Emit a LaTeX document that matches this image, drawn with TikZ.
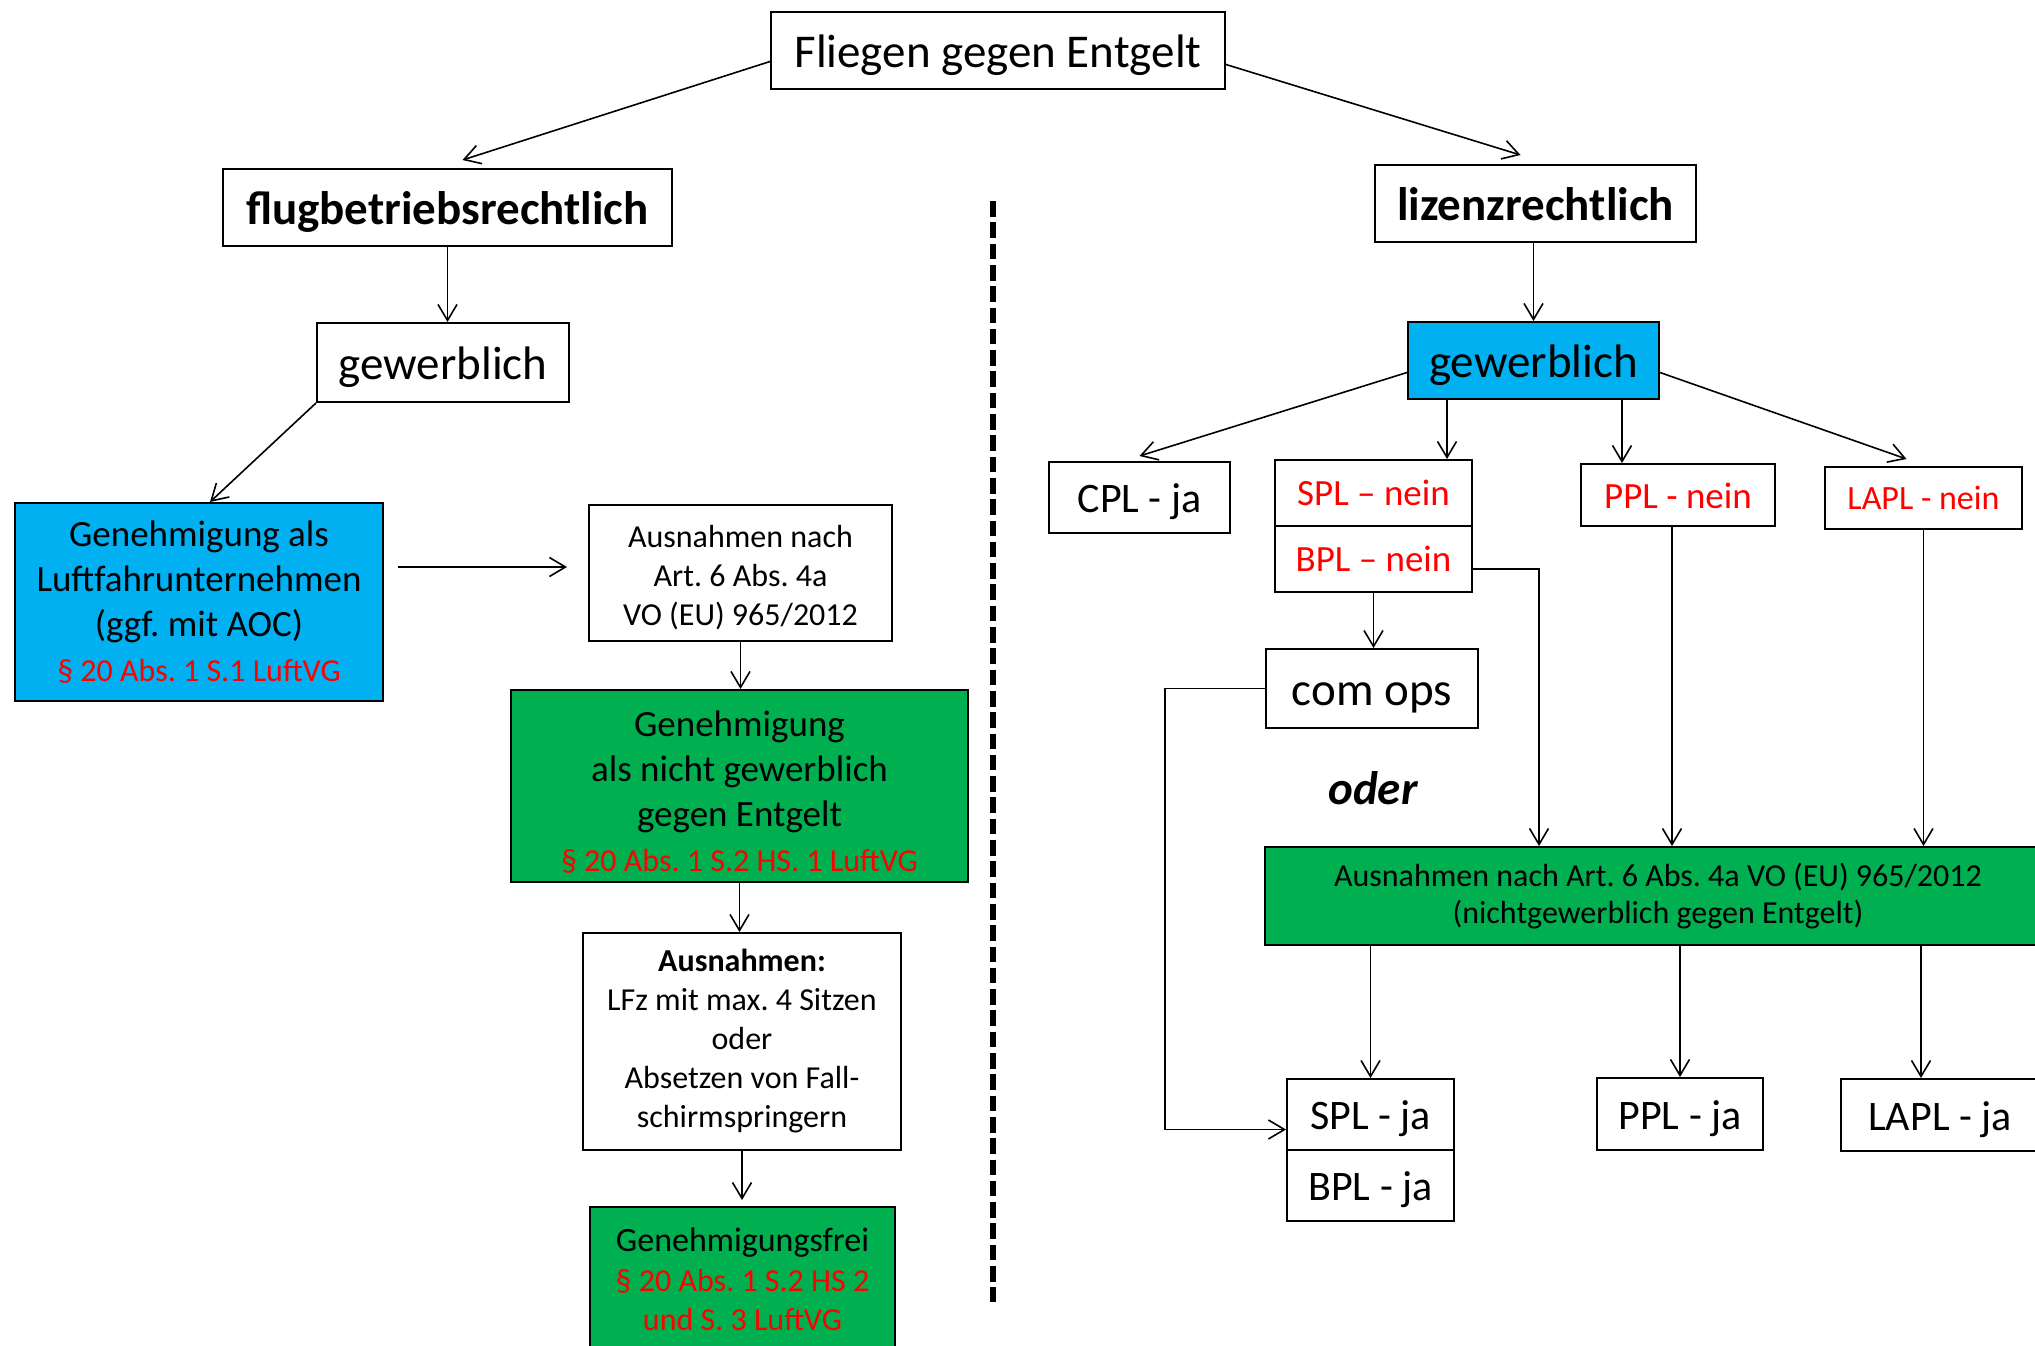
\documentclass[tikz,border=0pt]{standalone}
\usepackage{fontspec}
\setmainfont{Carlito}
\usetikzlibrary{arrows.meta}
\definecolor{cblue}{RGB}{0,176,240}
\definecolor{cgreen}{RGB}{0,176,80}
\definecolor{cred}{RGB}{255,0,0}
\newcommand\myfs[2]{\fontsize{#1}{#2}\selectfont}
\begin{document}
\frenchspacing
\begin{tikzpicture}[x=1pt,y=-1pt,
  box/.style={draw=black, line width=2pt, inner sep=0pt, align=center, anchor=center, text=black},
  arr/.style={draw=black, line width=1.6pt, -{Straight Barb[length=16pt,width=19pt]}},
  divider/.style={draw=black, line width=5.3pt, dash pattern=on 15.6pt off 5.7pt},
  big/.style={font=\myfs{47}{56}, text height=35pt, text depth=2pt},
  bigb/.style={font=\myfs{47}{56}\bfseries, text height=35pt, text depth=2pt},
  lab/.style={font=\myfs{42}{50}, text height=32pt, text depth=2pt},
  redlab/.style={font=\myfs{37}{44}, text=cred},
  mid/.style={font=\myfs{37}{45}},
  small/.style={font=\myfs{32}{39}}
]
\useasboundingbox (0,0) rectangle (2035,1345);
\clip (0,0) rectangle (2035,1345);
\fill[white] (0,0) rectangle (2035,1345);

% ---- top
\node[box, big, minimum width=454pt, minimum height=77pt] (top) at (998,50.5) {Fliegen gegen Entgelt};

% ---- left branch
\node[box, bigb, minimum width=449pt, minimum height=77pt] (flug) at (447.5,207.5) {flugbetriebsrechtlich};
\node[box, big, minimum width=252pt, minimum height=79pt] (gew1) at (443,362.5) {gewerblich};
\node[box, mid, fill=cblue, minimum width=368pt, minimum height=198pt] (blue) at (199,602)
  {Genehmigung als\\Luftfahrunternehmen\\(ggf. mit AOC)\\{\color{cred}\myfs{32}{39}§ 20 Abs. 1 S.1 LuftVG}};
\node[box, small, minimum width=303pt, minimum height=136pt] (ausn1) at (740.5,573)
  {\rule{0pt}{31pt}Ausnahmen nach\\Art. 6 Abs. 4a\\VO (EU) 965/2012};
\node[box, mid, fill=cgreen, minimum width=457pt, minimum height=192pt] (green1) at (739.5,786)
  {\rule{0pt}{38pt}Genehmigung\\als nicht gewerblich\\gegen Entgelt\\{\color{cred}\myfs{32}{39}§ 20 Abs. 1 S.2 HS. 1 LuftVG}};
\node[box, small, minimum width=318pt, minimum height=217pt] (ausn2) at (742,1041.5)
  {\textbf{Ausnahmen:}\\LFz mit max. 4 Sitzen\\oder\\Absetzen von Fall-\\schirmspringern};
\node[box, font=\myfs{34}{39.5}, fill=cgreen, minimum width=305pt, minimum height=145pt] (frei) at (742.5,1279.5)
  {Genehmigungsfrei\\{\color{cred}\myfs{32}{39}§ 20 Abs. 1 S.2 HS 2}\\{\color{cred}\myfs{32}{39}und S. 3 LuftVG}};

% ---- divider
\coordinate (d1) at (993,201);
\coordinate (d2) at (993,1302);
\draw[divider] (d1) -- (d2);

% ---- right branch
\node[box, bigb, minimum width=321pt, minimum height=77pt] (liz) at (1535.5,203.5) {lizenzrechtlich};
\node[box, big, fill=cblue, minimum width=251pt, minimum height=77pt] (gew2) at (1533.5,360.5) {gewerblich};
\node[box, lab, minimum width=181pt, minimum height=71pt] (cpl) at (1139.5,497.5) {CPL - ja};
\node[box, redlab, minimum width=197pt, minimum height=66pt] (spln) at (1373.5,493) {SPL – nein};
\node[box, redlab, minimum width=197pt, minimum height=66pt] (bpln) at (1373.5,559) {BPL – nein};
\node[box, redlab, minimum width=194pt, minimum height=62pt, text height=28pt] (ppln) at (1678,495) {PPL - nein};
\node[box, redlab, font=\myfs{34}{40}, minimum width=197pt, minimum height=62pt] (lapln) at (1923.5,498) {LAPL - nein};
\node[box, big, minimum width=212pt, minimum height=79pt] (comops) at (1372,688.5) {com ops};
\node[font=\myfs{47}{56}\bfseries\itshape, inner sep=0pt] (oder) at (1373,788) {oder};
\node[box, small, fill=cgreen, minimum width=786pt, minimum height=98pt, font=\myfs{32}{37}] (grn2) at (1658,896)
  {Ausnahmen nach Art. 6 Abs. 4a VO (EU) 965/2012\\(nichtgewerblich gegen Entgelt)};
\node[box, lab, minimum width=167pt, minimum height=71pt] (splj) at (1370.5,1114.5) {SPL - ja};
\node[box, lab, minimum width=167pt, minimum height=71pt] (bplj) at (1370.5,1185.5) {BPL - ja};
\node[box, lab, minimum width=166pt, minimum height=72pt] (pplj) at (1680,1114) {PPL - ja};
\node[box, lab, minimum width=198pt, minimum height=72pt] (laplj) at (1940,1115) {LAPL - ja};

% ---- helper coordinates
\coordinate (ya) at (0,567);
\coordinate (xa) at (1447,0);
\coordinate (xb) at (1622,0);
\coordinate (xc) at (1539,0);
\coordinate (xd) at (1672,0);
\coordinate (xe) at (1165,0);
\coordinate (xf) at (1921,0);

% ---- connectors left
\draw[arr] ([yshift=-11pt]top.west) -- ([xshift=15pt,yshift=8pt]flug.north);
\draw[arr] ([yshift=-14pt]top.east) -- ([xshift=-15pt,yshift=9pt]liz.north);
\draw[arr] (flug.south) -- (flug.south |- gew1.north);
\draw[arr] (gew1.south west) -- ([xshift=11pt]blue.north);
\draw[arr, shorten <=14pt, shorten >=21pt] (blue.east |- ya) -- (ausn1.west |- ya);
\draw[arr] (ausn1.south) -- (ausn1.south |- green1.north);
\draw[arr] (green1.south) -- (green1.south |- ausn2.north);
\draw[arr, shorten >=6pt] (ausn2.south) -- (ausn2.south |- frei.north);

% ---- connectors right
\draw[arr] (liz.south -| gew2.north) -- (gew2.north);
\draw[arr] ([yshift=-12pt]gew2.west) -- ([yshift=5pt]cpl.north);
\draw[arr] (gew2.south -| xa) -- (spln.north -| xa);
\draw[arr] (gew2.south -| xb) -- (ppln.north -| xb);
\draw[arr] ([yshift=-12pt]gew2.east) -- ([xshift=-17pt,yshift=7pt]lapln.north);
\draw[arr] ([yshift=-10pt]bpln.east) -| (grn2.north -| xc);
\draw[arr] (ppln.south -| xd) -- (grn2.north -| xd);
\draw[arr] (lapln.south) -- (lapln.south |- grn2.north);
\draw[arr] (bpln.south) -- (bpln.south |- comops.north);
\draw[arr] (comops.west) -- (comops.west -| xe) |- ([yshift=-15pt]splj.west);
\draw[arr] (grn2.south -| splj.north) -- (splj.north);
\draw[arr] (grn2.south -| pplj.north) -- (pplj.north);
\draw[arr] (grn2.south -| xf) -- (laplj.north -| xf);
\end{tikzpicture}
\end{document}
